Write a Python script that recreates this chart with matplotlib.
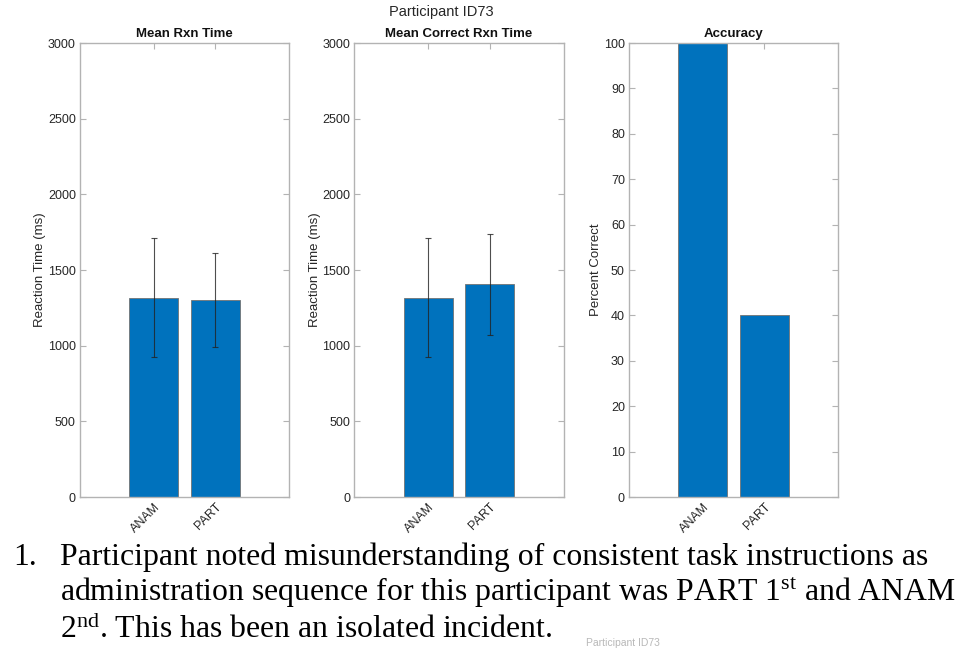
import numpy as np
import matplotlib
matplotlib.use("Agg")
import matplotlib.pyplot as plt

plt.rcParams['font.family'] = ['Liberation Sans', 'DejaVu Sans']
plt.rcParams['mathtext.fontset'] = 'custom'
plt.rcParams['mathtext.rm'] = 'Liberation Serif'
plt.rcParams['mathtext.it'] = 'Liberation Serif:italic'

# ── Data ──────────────────────────────────────────────────────────────────────
conditions = ["ANAM", "PART"]

rt_mean = [1318, 1300]           # mean reaction time (ms)
rt_err = [392, 312]

rt_correct_mean = [1318, 1405]   # mean correct reaction time (ms)
rt_correct_err = [392, 333]

accuracy = [100, 40]             # percent correct

participant = "Participant ID73"
note_lines = [
    "Participant noted misunderstanding of consistent task instructions as",
    r"administration sequence for this participant was PART 1$^{\mathrm{st}}$ and ANAM",
    r"2$^{\mathrm{nd}}$. This has been an isolated incident.",
]

# ── Style ─────────────────────────────────────────────────────────────────────
BAR_BLUE = '#0072BD'
AX_GRAY = '#b3b3b3'
TXT_GRAY = '#262626'

fig = plt.figure(figsize=(9.73, 6.49), dpi=100)

bottom, height = 0.2342, 0.6995
lefts = [0.0822, 0.3643, 0.6465]
width = 0.2150

panels = [
    ("Mean Rxn Time", rt_mean, rt_err, "Reaction Time (ms)", 3000, 500),
    ("Mean Correct Rxn Time", rt_correct_mean, rt_correct_err, "Reaction Time (ms)", 3000, 500),
    ("Accuracy", accuracy, None, "Percent Correct", 100, 10),
]

x = np.arange(1, len(conditions) + 1)

for left, (title, vals, errs, ylabel, ymax, ystep) in zip(lefts, panels):
    ax = fig.add_axes([left, bottom, width, height])
    ax.bar(x, vals, width=0.8, color=BAR_BLUE, edgecolor='0.45', linewidth=0.6, zorder=2)
    if errs is not None:
        ax.errorbar(x, vals, yerr=errs, fmt='none', ecolor='#222222', elinewidth=0.8,
                    capsize=2.5, capthick=0.8, alpha=0.8, zorder=3)

    ax.set_xlim(-0.2, 3.2)
    ax.set_ylim(0, ymax)
    ax.set_yticks(np.arange(0, ymax + 1, ystep))
    ax.set_xticks(x)
    ax.set_xticklabels(conditions, rotation=45, ha='right', rotation_mode='anchor')

    for sp in ax.spines.values():
        sp.set_color(AX_GRAY)
        sp.set_linewidth(1.0)
    ax.tick_params(direction='in', length=4, width=0.8, color=AX_GRAY,
                   top=True, right=True, labelsize=9, labelcolor=TXT_GRAY, pad=3)

    ax.set_ylabel(ylabel, fontsize=9.5, color=TXT_GRAY, labelpad=1)
    ax.set_title(title, fontsize=9.5, fontweight='bold', color='#111111', pad=4)

fig.text(0.454, 0.9815, participant, ha='center', va='center', fontsize=10.5, color=TXT_GRAY)

# ── Note below the figure ─────────────────────────────────────────────────────
serif = ['Liberation Serif', 'DejaVu Serif']
NOTE_SIZE = 22.9
fig.text(13 / 973, 1 - 565 / 649, "1.", fontsize=NOTE_SIZE, family=serif,
         ha='left', va='baseline', color='black')
for i, line in enumerate(note_lines):
    y_px = 565 + i * 36.5
    fig.text(60 / 973, 1 - y_px / 649, line, fontsize=NOTE_SIZE, family=serif,
             ha='left', va='baseline', color='black')

# title of the next figure, peeking in at the bottom edge
fig.text(0.64, 1 / 649, participant, ha='center', va='bottom',
         fontsize=7.5, color='0.72')

fig.savefig("out.png", dpi=100)
